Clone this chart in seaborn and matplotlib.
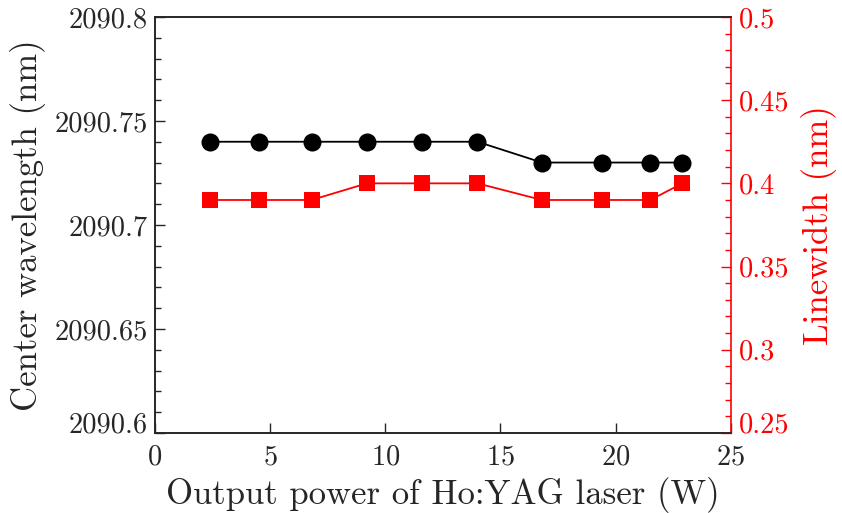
import matplotlib
matplotlib.use("Agg")
import matplotlib.pyplot as plt
import pandas as pd
import seaborn as sns
from matplotlib.ticker import MultipleLocator

# data
power = [2.4, 4.5, 6.8, 9.2, 11.6, 14.0, 16.8, 19.4, 21.5, 22.9]
center_wl = [2090.74, 2090.74, 2090.74, 2090.74, 2090.74, 2090.74,
             2090.73, 2090.73, 2090.73, 2090.73]
linewidth = [0.39, 0.39, 0.39, 0.40, 0.40, 0.40, 0.39, 0.39, 0.39, 0.40]

df = pd.DataFrame({"power": power, "wl": center_wl, "lw": linewidth})

sns.set_style("ticks")
plt.rcParams["font.family"] = ["cmr10", "DejaVu Serif"]
plt.rcParams["mathtext.fontset"] = "cm"
plt.rcParams["axes.formatter.use_mathtext"] = True

fig = plt.figure(figsize=(8.42, 5.13), dpi=100)
ax = fig.add_axes([0.184, 0.156, 0.684, 0.811])
ax2 = ax.twinx()

sns.lineplot(data=df, x="power", y="wl", ax=ax, color="black", marker="o",
             markersize=13, linewidth=1.3, markeredgewidth=0)
sns.lineplot(data=df, x="power", y="lw", ax=ax2, color="red", marker="s",
             markersize=11, linewidth=1.3, markeredgewidth=0)

ax.set_xlim(0, 25)
ax.set_ylim(2090.6, 2090.8)
ax2.set_ylim(0.25, 0.5)
ax.set_xticks([0, 5, 10, 15, 20, 25])
ax.set_yticks([2090.6, 2090.65, 2090.7, 2090.75, 2090.8])
ax.set_yticklabels(["2090.6", "2090.65", "2090.7", "2090.75", "2090.8"])
ax.yaxis.set_minor_locator(MultipleLocator(0.01))
ax2.set_yticks([0.25, 0.3, 0.35, 0.4, 0.45, 0.5])
ax2.set_yticklabels(["0.25", "0.3", "0.35", "0.4", "0.45", "0.5"])
ax2.yaxis.set_minor_locator(MultipleLocator(0.01))

ax.set_xlabel("Output power of Ho:YAG laser (W)", fontsize=25, labelpad=5)
ax.set_ylabel("Center wavelength (nm)", fontsize=25, labelpad=6)
ax2.set_ylabel("Linewidth (nm)", fontsize=25, color="red", labelpad=8)

ax.tick_params(axis="x", which="major", direction="in", length=7,
               width=1, labelsize=20.5, pad=8, top=False)
ax.tick_params(axis="y", which="major", direction="in", length=7,
               width=1, labelsize=20.5, pad=5, right=False)
ax.tick_params(axis="y", which="minor", direction="in", length=4, width=1)
ax2.tick_params(axis="y", which="major", direction="in", length=7,
                width=1, labelsize=20.5, pad=6, colors="red")
ax2.tick_params(axis="y", which="minor", direction="in", length=4,
                width=1, colors="red")

# lowest y labels sit on the axis line, as in the reference
ax.get_yticklabels()[0].set_va("baseline")
ax2.get_yticklabels()[0].set_va("baseline")

for a in (ax, ax2):
    for s in a.spines.values():
        s.set_visible(True)
        s.set_linewidth(1.2)
ax2.spines["right"].set_color("red")
ax.spines["right"].set_visible(False)

fig.savefig("out.png", dpi=100)
